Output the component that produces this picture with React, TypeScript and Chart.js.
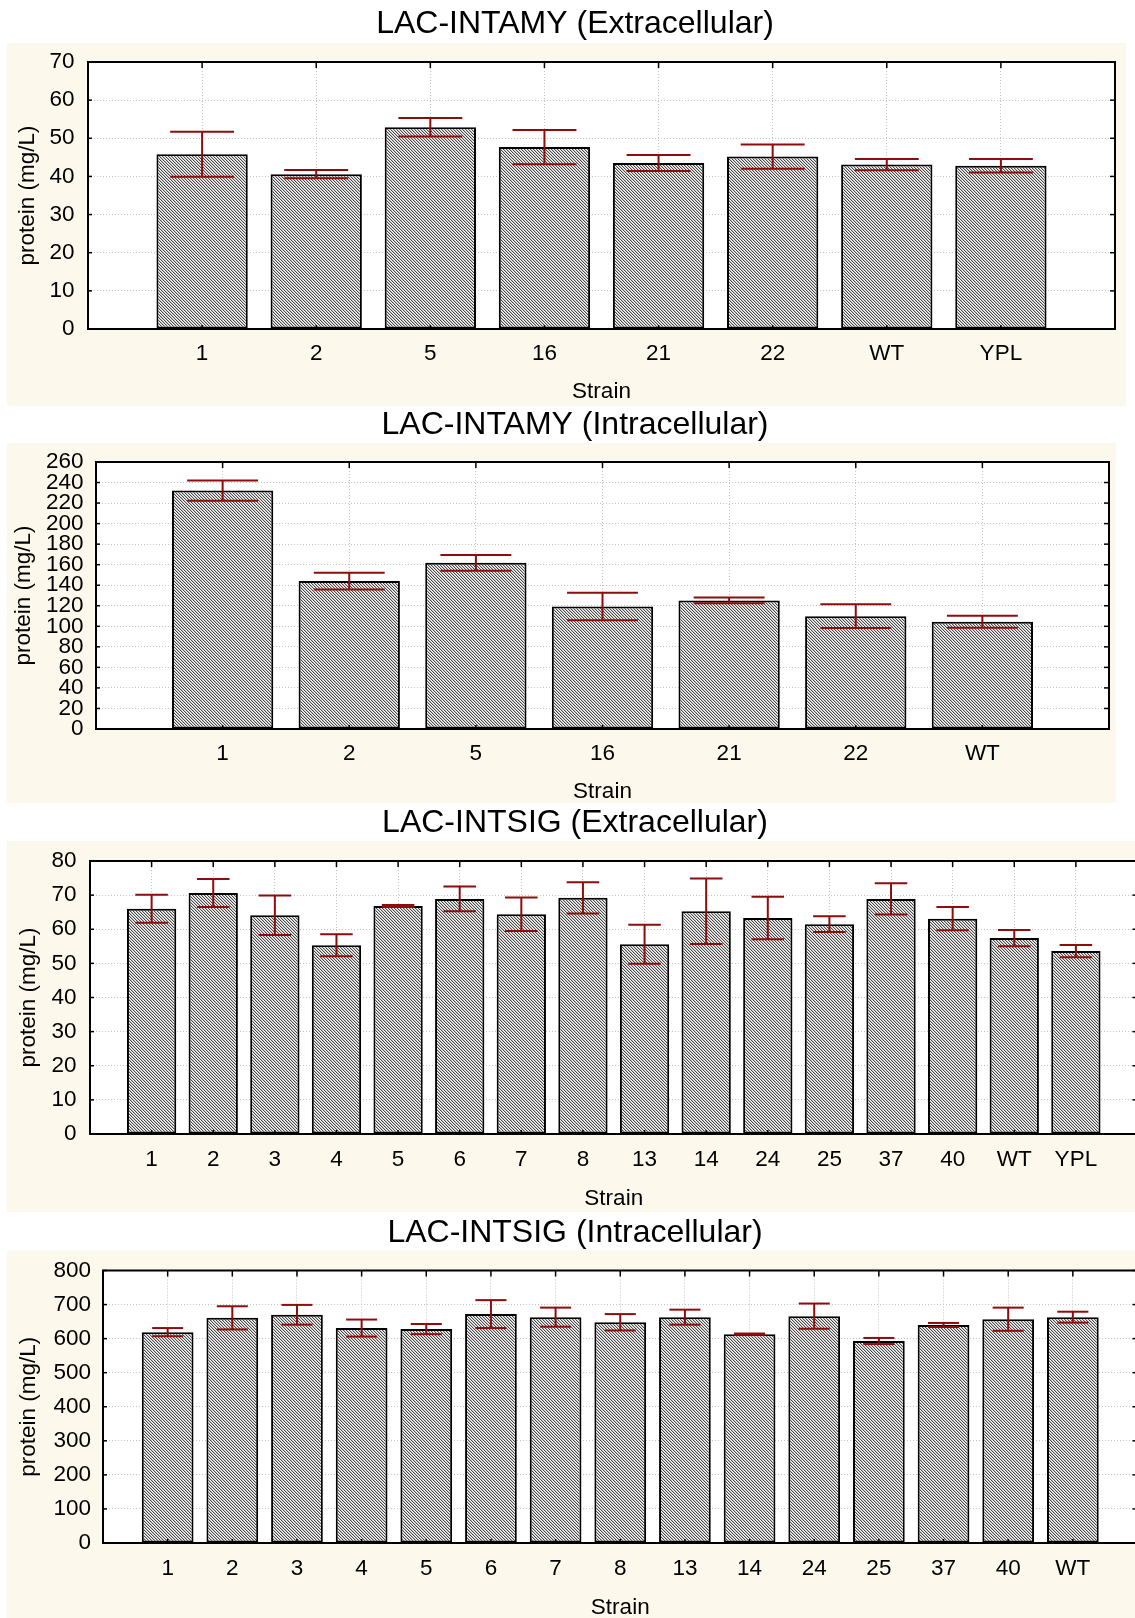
import React, { useEffect, useRef } from 'react';
import { Chart, registerables } from 'chart.js';

Chart.register(...registerables);

// ---- LAC-INTAMY, extracellular protein (mg/L), mean and standard error ----
const amyExtStrains = ['1', '2', '5', '16', '21', '22', 'WT', 'YPL'];
const amyExtMeans = [45.8, 40.6, 52.9, 47.7, 43.5, 45.2, 43.1, 42.8];
const amyExtErrors = [5.9, 1.1, 2.4, 4.5, 2.1, 3.2, 1.5, 1.8];

// ---- LAC-INTAMY, intracellular ----
const amyIntStrains = ['1', '2', '5', '16', '21', '22', 'WT'];
const amyIntMeans = [232.2, 144.0, 161.8, 119.3, 125.2, 109.9, 104.4];
const amyIntErrors = [9.9, 8.1, 7.6, 13.3, 2.8, 11.6, 5.9];

// ---- LAC-INTSIG, extracellular ----
const sigExtStrains = ['1', '2', '3', '4', '5', '6', '7', '8', '13', '14', '24', '25', '37', '40', 'WT', 'YPL'];
const sigExtMeans = [66.0, 70.6, 64.1, 55.3, 66.8, 68.9, 64.4, 69.2, 55.6, 65.3, 63.3, 61.5, 68.9, 63.1, 57.4, 53.6];
const sigExtErrors = [4.1, 4.1, 5.8, 3.2, 0.3, 3.6, 4.9, 4.6, 5.7, 9.6, 6.2, 2.3, 4.6, 3.4, 2.4, 1.8];

// ---- LAC-INTSIG, intracellular ----
const sigIntStrains = ['1', '2', '3', '4', '5', '6', '7', '8', '13', '14', '24', '25', '37', '40', 'WT'];
const sigIntMeans = [619, 661, 670, 631, 628, 672, 663, 648, 663, 613, 666, 593, 640, 657, 663];
const sigIntErrors = [12, 34, 29, 25, 15, 41, 28, 24, 22, 2, 37, 9, 6, 34, 16];

// ---- axis settings ----
const yMaxes = [70, 260, 80, 800];
const yStepSizes = [10, 20, 10, 100];
const chartTitles = [
  'LAC-INTAMY (Extracellular)',
  'LAC-INTAMY (Intracellular)',
  'LAC-INTSIG (Extracellular)',
  'LAC-INTSIG (Intracellular)',
];
const yAxisTitle = 'protein (mg/L)';
const xAxisTitle = 'Strain';

// ---- styling ----
const FONT = '"Liberation Sans", Arial, Helvetica, sans-serif';
const PAGE_W = 1135;
const PAGE_H = 1618;
const CANVAS_W = 1150;
const PANEL_COLOR = '#fdf8ec';
const GRID_COLOR = '#c4c4c4';
const ERR_COLOR = '#8e0c0c';
const TITLE_SIZE = 32;
const TICK_SIZE = 22.5;
const AXIS_TITLE_SIZE = 22.5;

type Box = { l: number; r: number; t: number; b: number };
type Panel = {
  title: string;
  strains: string[];
  means: number[];
  errors: number[];
  yMax: number;
  yStep: number;
  plot: Box;
  frame: Box;
  titleY: number;
  xTickY: number;
  xTitleY: number;
  yTitleX: number;
  yTickGap: number;
  capRatio: number;
};

const panels: Panel[] = [
  {
    title: chartTitles[0], strains: amyExtStrains, means: amyExtMeans, errors: amyExtErrors,
    yMax: yMaxes[0], yStep: yStepSizes[0],
    plot: { l: 88, r: 1115, t: 62, b: 329 }, frame: { l: 7, r: 1126, t: 43, b: 406 },
    titleY: 24, xTickY: 354, xTitleY: 392, yTitleX: 27.5, yTickGap: 13.5, capRatio: 0.7,
  },
  {
    title: chartTitles[1], strains: amyIntStrains, means: amyIntMeans, errors: amyIntErrors,
    yMax: yMaxes[1], yStep: yStepSizes[1],
    plot: { l: 96, r: 1109, t: 462, b: 729 }, frame: { l: 7, r: 1116, t: 443, b: 803 },
    titleY: 425, xTickY: 754, xTitleY: 792, yTitleX: 23.5, yTickGap: 12.5, capRatio: 0.7,
  },
  {
    title: chartTitles[2], strains: sigExtStrains, means: sigExtMeans, errors: sigExtErrors,
    yMax: yMaxes[2], yStep: yStepSizes[2],
    plot: { l: 90, r: 1141, t: 861, b: 1134 }, frame: { l: 7, r: 1150, t: 841, b: 1212 },
    titleY: 823, xTickY: 1160, xTitleY: 1199, yTitleX: 28.5, yTickGap: 13.5, capRatio: 0.66,
  },
  {
    title: chartTitles[3], strains: sigIntStrains, means: sigIntMeans, errors: sigIntErrors,
    yMax: yMaxes[3], yStep: yStepSizes[3],
    plot: { l: 103, r: 1141, t: 1270, b: 1543 }, frame: { l: 7, r: 1150, t: 1250, b: 1640 },
    titleY: 1232.5, xTickY: 1569, xTitleY: 1608, yTitleX: 29, yTickGap: 12, capRatio: 0.6,
  },
];

// Fine diagonal hatching used to fill the bars.
function makeHatch(target: CanvasRenderingContext2D): CanvasPattern | string {
  const tile = document.createElement('canvas');
  tile.width = 3;
  tile.height = 3;
  const g = tile.getContext('2d');
  if (!g) return '#999';
  g.fillStyle = '#fafafa';
  g.fillRect(0, 0, 3, 3);
  for (let i = 0; i < 3; i++) {
    g.fillStyle = '#4a4a4a';
    g.fillRect(i, i, 1, 1);
    g.fillStyle = '#c2c2c2';
    g.fillRect((i + 1) % 3, i, 1, 1);
  }
  return target.createPattern(tile, 'repeat') || '#999';
}

function canvasTopOf(p: Panel) {
  return p.titleY - 30;
}
function canvasBottomOf(p: Panel) {
  return p.xTitleY + 16;
}

function BarPanel({ panel }: { panel: Panel }) {
  const ref = useRef<HTMLCanvasElement | null>(null);
  const top = canvasTopOf(panel);
  const height = canvasBottomOf(panel) - top;

  useEffect(() => {
    const canvas = ref.current;
    if (!canvas) return;
    const ctx2d = canvas.getContext('2d');
    if (!ctx2d) return;
    const p = panel;
    const n = p.strains.length;

    const titleLH = TITLE_SIZE * 1.2;
    const axisTitleLH = AXIS_TITLE_SIZE * 1.2;
    const tickLH = TICK_SIZE * 1.2;
    const xAxisHeight = canvasBottomOf(p) - p.plot.b;

    const stroke = (c: CanvasRenderingContext2D, x1: number, y1: number, x2: number, y2: number) => {
      c.beginPath();
      c.moveTo(x1, y1);
      c.lineTo(x2, y2);
      c.stroke();
    };

    // cream panel behind the axes and a white plotting area
    const backdrop = {
      id: 'backdrop',
      beforeDraw(chart: any) {
        const c = chart.ctx as CanvasRenderingContext2D;
        const a = chart.chartArea;
        c.save();
        c.fillStyle = PANEL_COLOR;
        c.fillRect(p.frame.l, p.frame.t - top, p.frame.r - p.frame.l, p.frame.b - p.frame.t);
        c.fillStyle = '#ffffff';
        c.fillRect(a.left, a.top, a.right - a.left, a.bottom - a.top);
        c.restore();
      },
    };

    // mean ± error whiskers
    const whiskers = {
      id: 'whiskers',
      afterDatasetsDraw(chart: any) {
        const c = chart.ctx as CanvasRenderingContext2D;
        const ds = chart.data.datasets[0];
        const errs: (number | null)[] = ds.errors;
        const vals: (number | null)[] = ds.data;
        const yScale = chart.scales.y;
        const meta = chart.getDatasetMeta(0);
        c.save();
        c.strokeStyle = ERR_COLOR;
        c.lineWidth = 2;
        meta.data.forEach((bar: any, i: number) => {
          const v = vals[i];
          const e = errs[i];
          if (v == null || e == null) return;
          const { x, width } = bar.getProps(['x', 'width'], true);
          const half = (width * p.capRatio) / 2;
          const yHi = yScale.getPixelForValue(v + e);
          const yLo = yScale.getPixelForValue(v - e);
          stroke(c, x, yHi, x, yLo);
          stroke(c, x - half, yHi, x + half, yHi);
          stroke(c, x - half, yLo, x + half, yLo);
        });
        c.restore();
      },
    };

    // box frame with inward tick marks on all four sides
    const frame = {
      id: 'boxFrame',
      afterDraw(chart: any) {
        const c = chart.ctx as CanvasRenderingContext2D;
        const a = chart.chartArea;
        const xs = chart.scales.x;
        const ys = chart.scales.y;
        c.save();
        c.strokeStyle = '#000';
        c.lineWidth = 1.5;
        ys.ticks.forEach((tk: any) => {
          const py = ys.getPixelForValue(tk.value);
          stroke(c, a.left, py, a.left + 4, py);
          stroke(c, a.right, py, a.right - 5, py);
        });
        for (let i = 1; i <= n; i++) {
          const px = xs.getPixelForValue(i);
          stroke(c, px, a.top, px, a.top + 6);
          stroke(c, px, a.bottom, px, a.bottom - 4);
        }
        c.lineWidth = 2;
        c.strokeRect(a.left, a.top, a.right - a.left, a.bottom - a.top);
        c.restore();
      },
    };

    const chart = new Chart(canvas, {
      type: 'bar',
      data: {
        labels: ['', ...p.strains, ''],
        datasets: [
          {
            data: [null, ...p.means, null],
            errors: [null, ...p.errors, null],
            backgroundColor: makeHatch(ctx2d),
            borderColor: '#000',
            borderWidth: 2,
            borderSkipped: false,
            barPercentage: 0.8,
            categoryPercentage: 1,
          } as any,
        ],
      },
      options: {
        responsive: false,
        animation: false,
        events: [],
        devicePixelRatio: 1,
        layout: { padding: 0 },
        plugins: {
          legend: { display: false },
          tooltip: { enabled: false },
          title: {
            display: true,
            text: p.title,
            color: '#000',
            font: { family: FONT, size: TITLE_SIZE, weight: 'normal', lineHeight: 1.2 },
            padding: {
              top: p.titleY - top - titleLH / 2,
              bottom: p.plot.t - p.titleY - titleLH / 2,
            },
          },
        },
        scales: {
          x: {
            type: 'category',
            offset: false,
            grid: { offset: false, color: GRID_COLOR, lineWidth: 1, drawTicks: false },
            border: { display: false, dash: [1, 2] },
            ticks: {
              color: '#000',
              font: { family: FONT, size: TICK_SIZE, lineHeight: 1.2 },
              padding: p.xTickY - p.plot.b - tickLH / 2,
              autoSkip: false,
              maxRotation: 0,
            },
            title: {
              display: true,
              text: xAxisTitle,
              color: '#000',
              font: { family: FONT, size: AXIS_TITLE_SIZE, lineHeight: 1.2 },
              padding: { top: 0, bottom: canvasBottomOf(p) - p.xTitleY - axisTitleLH / 2 },
            },
            afterFit: (s: any) => {
              s.height = xAxisHeight;
            },
          },
          y: {
            type: 'linear',
            position: 'left',
            min: 0,
            max: p.yMax,
            grid: { color: GRID_COLOR, lineWidth: 1, drawTicks: false },
            border: { display: false, dash: [1, 2] },
            ticks: {
              stepSize: p.yStep,
              autoSkip: false,
              color: '#000',
              font: { family: FONT, size: TICK_SIZE, lineHeight: 1.2 },
              padding: p.yTickGap,
            },
            title: {
              display: true,
              text: yAxisTitle,
              color: '#000',
              font: { family: FONT, size: AXIS_TITLE_SIZE, lineHeight: 1.2 },
              padding: { top: p.yTitleX - axisTitleLH / 2, bottom: 0 },
            },
            afterFit: (s: any) => {
              s.width = p.plot.l;
            },
          },
          yRight: {
            type: 'linear',
            position: 'right',
            display: true,
            grid: { display: false, drawTicks: false },
            border: { display: false },
            ticks: { display: false },
            afterFit: (s: any) => {
              s.width = CANVAS_W - p.plot.r;
            },
          },
        },
      } as any,
      plugins: [backdrop, whiskers, frame],
    });

    return () => chart.destroy();
  }, [panel, top]);

  return (
    <canvas
      ref={ref}
      width={CANVAS_W}
      height={height}
      style={{ position: 'absolute', left: 0, top, width: CANVAS_W, height }}
    />
  );
}

export default function App() {
  return (
    <div
      style={{
        position: 'absolute',
        left: 0,
        top: 0,
        width: PAGE_W,
        height: PAGE_H,
        overflow: 'hidden',
        background: '#ffffff',
      }}
    >
      {panels.map((p) => (
        <BarPanel key={p.title} panel={p} />
      ))}
    </div>
  );
}
